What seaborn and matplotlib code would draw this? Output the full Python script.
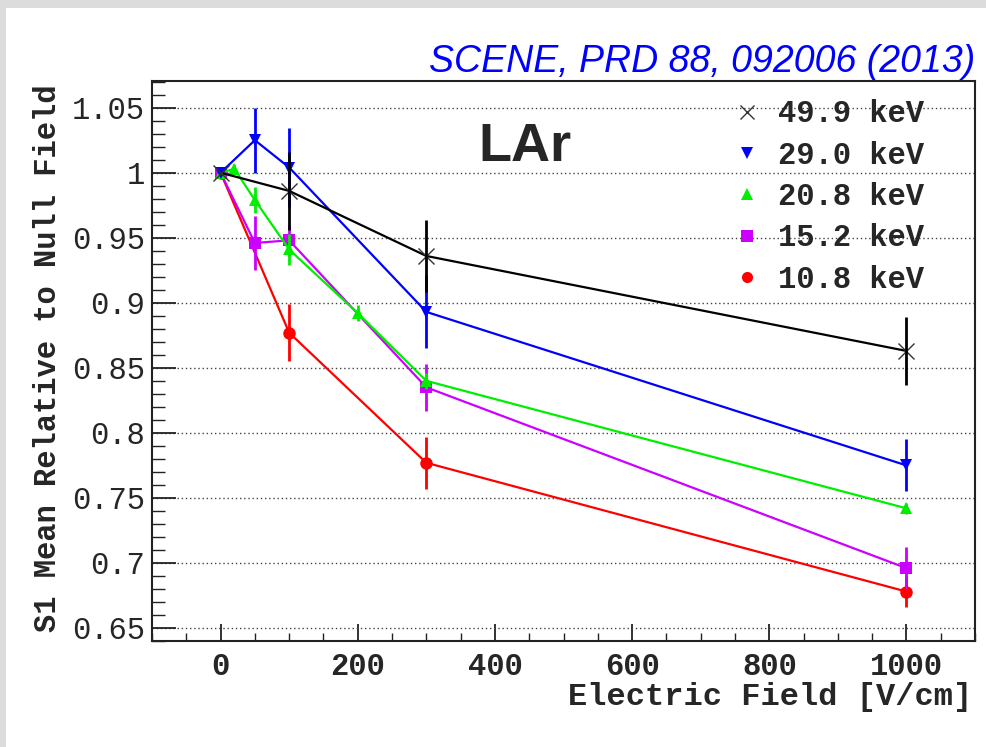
import numpy as np
import pandas as pd
import matplotlib
matplotlib.use("Agg")
import matplotlib.pyplot as plt
from matplotlib.lines import Line2D
from matplotlib.patches import Rectangle
from matplotlib.ticker import MultipleLocator
import seaborn as sns

# ---------------- data ----------------
labels = ["49.9 keV", "29.0 keV", "20.8 keV", "15.2 keV", "10.8 keV"]

field_499 = [0, 100, 300, 1000]
s1_499 = [1.0, 0.986, 0.936, 0.863]
err_499 = [0.0, 0.030, 0.028, 0.026]

field_290 = [0, 50, 100, 300, 1000]
s1_290 = [1.0, 1.025, 1.004, 0.893, 0.775]
err_290 = [0.0, 0.025, 0.030, 0.028, 0.020]

field_208 = [0, 20, 50, 100, 200, 300, 1000]
s1_208 = [1.0, 1.003, 0.979, 0.941, 0.892, 0.840, 0.742]
err_208 = [0.0, 0.004, 0.010, 0.012, 0.006, 0.006, 0.004]

field_152 = [0, 50, 100, 300, 1000]
s1_152 = [1.0, 0.946, 0.948, 0.835, 0.696]
err_152 = [0.0, 0.021, 0.012, 0.018, 0.016]

field_108 = [0, 100, 300, 1000]
s1_108 = [1.0, 0.877, 0.777, 0.678]
err_108 = [0.0, 0.022, 0.020, 0.012]

series = {
    "49.9 keV": (field_499, s1_499, err_499),
    "29.0 keV": (field_290, s1_290, err_290),
    "20.8 keV": (field_208, s1_208, err_208),
    "15.2 keV": (field_152, s1_152, err_152),
    "10.8 keV": (field_108, s1_108, err_108),
}
colors = {"49.9 keV": "#000000", "29.0 keV": "#0000ff", "20.8 keV": "#00ee00",
          "15.2 keV": "#cc00ff", "10.8 keV": "#ff0000"}
markers = {"49.9 keV": "x", "29.0 keV": "v", "20.8 keV": "^",
           "15.2 keV": "s", "10.8 keV": "o"}

rows = []
for lab, (xs, ys, es) in series.items():
    for x, y, e in zip(xs, ys, es):
        rows.append({"field": x, "s1": y, "err": e, "energy": lab})
df = pd.DataFrame(rows)

# ---------------- figure ----------------
sns.set_theme(style="white")
plt.rcParams["font.family"] = ["Liberation Mono", "DejaVu Sans"]

fig = plt.figure(figsize=(9.87, 7.47), dpi=100, facecolor="#dcdcdc")
fig.patches.append(Rectangle((6 / 987, 0), 1, 1 - 8 / 747, transform=fig.transFigure,
                             facecolor="white", edgecolor="none", zorder=-10))
ax = fig.add_axes([152 / 987, 1 - 641 / 747, 823 / 987, 560 / 747])
ax.set_zorder(5)
ax.set_facecolor("white")

draw_order = ["10.8 keV", "15.2 keV", "20.8 keV", "29.0 keV", "49.9 keV"]
for i, lab in enumerate(draw_order):
    sub = df[df["energy"] == lab]
    if lab == "49.9 keV":
        mkw = dict(marker="x", markersize=11, markeredgewidth=1.0,
                   markeredgecolor="#333333")
    else:
        mkw = dict(marker=markers[lab], markersize=9, markeredgewidth=0)
    sns.lineplot(data=sub, x="field", y="s1", color=colors[lab], sort=False,
                 estimator=None, legend=False, linewidth=1.6, ax=ax,
                 zorder=3 + i, **mkw)
    se = sub[sub["err"] > 0]
    ax.errorbar(se["field"], se["s1"], yerr=se["err"], fmt="none",
                ecolor=colors[lab], elinewidth=2.0, capsize=0, zorder=3 + i)

ax.set_xlim(-100, 1100)
ax.set_ylim(0.64, 1.0705)
ax.xaxis.set_minor_locator(MultipleLocator(50))
ax.yaxis.set_minor_locator(MultipleLocator(0.01))
ax.set_yticks([0.65, 0.7, 0.75, 0.8, 0.85, 0.9, 0.95, 1.0, 1.05])
ax.set_yticklabels(["0.65", "0.7", "0.75", "0.8", "0.85", "0.9", "0.95", "1", "1.05"])
ax.set_xticks([0, 200, 400, 600, 800, 1000])
ax.set_xticklabels(["0", "200", "400", "600", "800", "1000"])

ax.grid(axis="y", which="major", color="#444444", linestyle=(0, (1, 2)), linewidth=1.0)
ax.grid(axis="x", visible=False)

ax.tick_params(axis="y", which="major", direction="in", length=17, width=1.3,
               color="#222222", labelsize=22, pad=5, left=True, right=False)
ax.tick_params(axis="y", which="minor", direction="in", length=9, width=1.0,
               color="#222222", left=True, right=False)
ax.tick_params(axis="x", which="major", direction="in", length=12, width=1.3,
               color="#222222", labelsize=22, pad=8, bottom=True)
ax.tick_params(axis="x", which="minor", direction="in", length=6, width=1.0,
               color="#222222", bottom=True)
for t in ax.get_xticklabels():
    t.set_fontweight("bold")

for s in ax.spines.values():
    s.set_color("#222222")
    s.set_linewidth(1.5)

ax.set_xlabel("Electric Field [V/cm]", fontsize=23, fontweight="bold", loc="right")
ax.xaxis.set_label_coords(0.9964, -0.073)
ax.xaxis.label.set_va("top")
ax.set_ylabel("S1 Mean Relative to Null Field", fontsize=22, fontweight="bold", loc="top")
ax.yaxis.set_label_coords(-0.108, 0.993)

ax.text(0.453, 0.882, "LAr", transform=ax.transAxes, fontsize=39,
        fontweight="bold", family=["Liberation Sans", "DejaVu Sans"],
        ha="center", va="center", zorder=10)

fig.text(0.988, 1 - 72 / 747, "SCENE, PRD 88, 092006 (2013)", color="#0000ff",
         fontsize=27, style="italic",
         family=["Liberation Sans", "DejaVu Sans"],
         ha="right", va="baseline")

legend_order = ["49.9 keV", "29.0 keV", "20.8 keV", "15.2 keV", "10.8 keV"]
handles = []
for lab in legend_order:
    if lab == "49.9 keV":
        h = Line2D([], [], ls="none", marker="x", color="#333333",
                   markersize=10, markeredgewidth=1.0)
    else:
        h = Line2D([], [], ls="none", marker=markers[lab], color=colors[lab],
                   markersize=8, markeredgewidth=0)
    handles.append(h)
leg = ax.legend(handles, legend_order, loc="upper left",
                bbox_to_anchor=(0.7048, 0.967), frameon=False,
                prop={"family": "Liberation Mono", "weight": "bold", "size": 22},
                handlelength=1.0, handletextpad=0.5, labelspacing=0.37,
                borderpad=0, borderaxespad=0)

fig.savefig("out.png", dpi=100, facecolor=fig.get_facecolor())
